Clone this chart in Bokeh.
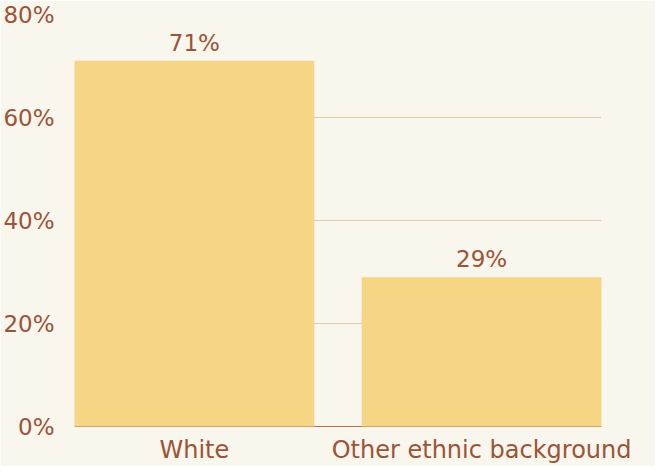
from bokeh.plotting import figure
from bokeh.models import Range1d, FixedTicker, PrintfTickFormatter, ColumnDataSource
from bokeh.core.properties import value
from bokeh.embed import file_html
from bokeh.resources import INLINE

categories = ["White", "Other ethnic background"]
values = [71, 29]
labels = ["71%", "29%"]
y_ticks = [0, 20, 40, 60, 80]

BG = "#f9f6ee"
BAR = "#f6d584"
TXT = "#9b5436"
FONT = "DejaVu Sans"

xs = list(range(len(categories)))
src = ColumnDataSource(dict(x=xs, top=values, label=labels))

bar_w = 0.835
p = figure(frame_width=527, frame_height=412, output_backend="svg", toolbar_location=None,
           x_range=Range1d(-bar_w / 2, len(categories) - 1 + bar_w / 2),
           y_range=Range1d(0, 80),
           min_border_left=74, min_border_right=54, min_border_top=14, min_border_bottom=0)
p.background_fill_color = BG
p.border_fill_color = BG
p.outline_line_color = None

r = p.vbar(x="x", top="top", width=bar_w, bottom=0, source=src, fill_color=BAR, line_color=None)
r.level = "annotation"
t = p.text(x="x", y="top", text="label", source=src, text_align="center", text_baseline="bottom",
           y_offset=-5, text_color=TXT, text_font=value(FONT), text_font_size="23px")
t.level = "annotation"

p.xgrid.grid_line_color = None
p.ygrid.grid_line_color = "#e2c9a8"
p.ygrid.ticker = FixedTicker(ticks=y_ticks)

p.yaxis.ticker = FixedTicker(ticks=y_ticks)
p.yaxis.formatter = PrintfTickFormatter(format="%d%%")
p.yaxis.axis_line_color = None
p.yaxis.major_tick_line_color = None
p.yaxis.minor_tick_line_color = None
p.yaxis.major_label_standoff = 14
p.yaxis.major_label_text_font = FONT
p.yaxis.major_label_text_font_size = "23px"
p.yaxis.major_label_text_color = TXT

p.xaxis.ticker = FixedTicker(ticks=xs)
p.xaxis.major_label_overrides = {i: c for i, c in enumerate(categories)}
p.xaxis.axis_line_color = "#b5714c"
p.xaxis.axis_line_width = 1
p.xaxis.major_tick_line_color = None
p.xaxis.minor_tick_line_color = None
p.xaxis.major_label_standoff = 3
p.xaxis.major_label_text_font = FONT
p.xaxis.major_label_text_font_size = "24px"
p.xaxis.major_label_text_color = TXT

open("out.html", "w").write(file_html(p, INLINE))
